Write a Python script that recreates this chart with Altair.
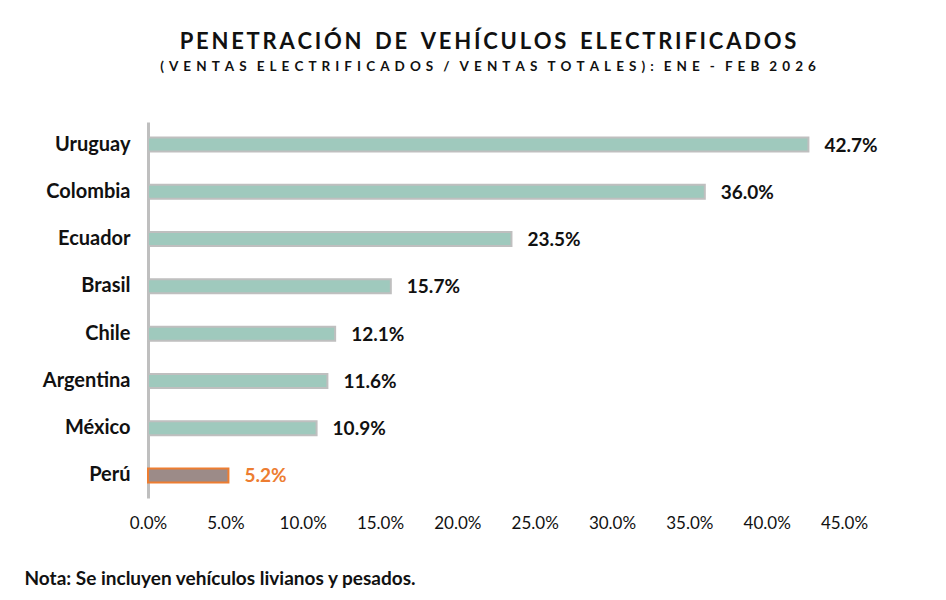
import altair as alt
import pandas as pd

countries = ["Uruguay", "Colombia", "Ecuador", "Brasil", "Chile", "Argentina", "México", "Perú"]
values = [42.7, 36.0, 23.5, 15.7, 12.1, 11.6, 10.9, 5.2]
highlight = "Perú"

title_text = "PENETRACIÓN DE VEHÍCULOS ELECTRIFICADOS"
subtitle_text = "(VENTAS ELECTRIFICADOS / VENTAS TOTALES): ENE - FEB 2026"
note_text = "Nota: Se incluyen vehículos livianos y pesados."


def spaced(s, sep, word_sep):
    # fake letter-spacing with thin spaces between letters
    return word_sep.join(sep.join(w) for w in s.split(" "))


df = pd.DataFrame({
    "pais": countries,
    "valor": [v / 100 for v in values],
    "peru": [c == highlight for c in countries],
})

FONT = "Lato"
T = "\u2009"

y_enc = alt.Y(
    "pais:N",
    sort=countries,
    title=None,
    scale=alt.Scale(paddingInner=0.7, paddingOuter=0.326),
    axis=alt.Axis(
        domainColor="#bfbfbf", domainWidth=3, ticks=False,
        labelFontSize=20, labelFontWeight="bold", labelColor="#111111",
        labelPadding=18, labelFont=FONT,
    ),
)

bars = alt.Chart(df).mark_bar(size=14, strokeWidth=2).encode(
    x=alt.X(
        "valor:Q",
        scale=alt.Scale(domain=[0, 0.45], nice=False),
        axis=alt.Axis(
            format=".1%", values=[i * 0.05 for i in range(10)],
            grid=False, domain=False, ticks=False,
            labelFontSize=17, labelColor="#111111", labelPadding=17,
            labelFont=FONT, labelFlush=False,
            title=note_text, titleFont=FONT, titleFontSize=19,
            titleFontWeight="bold", titleColor="#111111",
            titleAlign="left", titleAnchor="start", titleBaseline="alphabetic",
            titleX=-124, titleY=86,
        ),
    ),
    y=y_enc,
    color=alt.condition(alt.datum.peru, alt.value("#9c8b88"), alt.value("#9fc9bd")),
    stroke=alt.condition(alt.datum.peru, alt.value("#ed7d31"), alt.value("#bfbfbf")),
)

labels = alt.Chart(df).mark_text(
    align="left", baseline="middle", dx=16, dy=1,
    fontSize=19, fontWeight="bold", font=FONT,
).encode(
    x="valor:Q",
    y=alt.Y("pais:N", sort=countries),
    text=alt.Text("valor:Q", format=".1%"),
    color=alt.condition(alt.datum.peru, alt.value("#ed7d31"), alt.value("#111111")),
)

chart = (bars + labels).properties(
    width=696,
    height=376,
    padding={"left": 16, "top": 22, "right": 5, "bottom": 5},
    title=alt.TitleParams(
        text=spaced(title_text, T, T + " " + T + T),
        subtitle=spaced(subtitle_text, T + T + T, T + T + " " + T + T),
        font=FONT, fontSize=22, fontWeight="bold", color="#111111",
        subtitleFont=FONT, subtitleFontSize=13.5, subtitleFontWeight="bold",
        subtitleColor="#111111", subtitlePadding=6,
        anchor="middle", dx=-8, offset=48,
    ),
).configure_view(stroke=None)

chart.save("out.html", embed_options={"renderer": "svg", "actions": False})
